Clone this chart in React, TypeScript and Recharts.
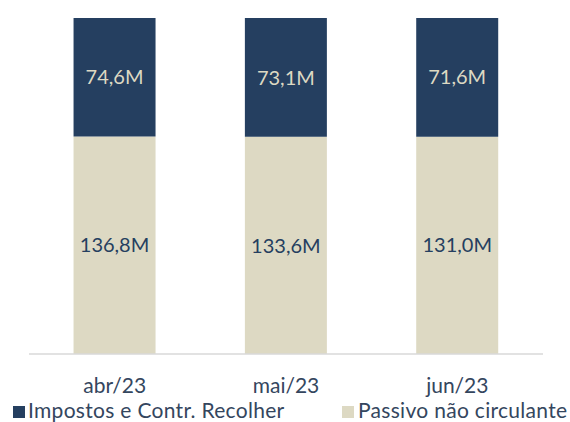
import { BarChart, Bar, XAxis, YAxis, LabelList } from "recharts";

const months = ["abr/23", "mai/23", "jun/23"];
const impostos = [74.6, 73.1, 71.6];
const passivo = [136.8, 133.6, 131.0];

const NAVY = "#253f60";
const BEIGE = "#ddd9c3";
const TEXT = "#34465e";
const FONT = "Lato, 'Open Sans', sans-serif";

const data = months.map((m, i) => ({
  month: m,
  impostos: impostos[i],
  passivo: passivo[i],
}));

const fmt = (v: number) => `${Number(v).toFixed(1).replace(".", ",")}M`;

const App = () => {
  return (
    <div style={{ position: "absolute", left: 0, top: 0, width: 570, height: 422, fontFamily: FONT, background: "#fff" }}>
      <BarChart
        width={570}
        height={422}
        data={data}
        stackOffset="expand"
        barCategoryGap="26%"
        margin={{ top: 18, right: 27, left: 29, bottom: 0 }}
      >
        <XAxis
          dataKey="month"
          height={68}
          tickLine={false}
          tickSize={0}
          tickMargin={24}
          axisLine={{ stroke: "#d9d9d9", strokeWidth: 1.5 }}
          tick={{ fill: TEXT, fontSize: 21, fontFamily: FONT }}
        />
        <YAxis hide domain={[0, 1]} />
        <Bar dataKey="passivo" stackId="a" fill={BEIGE} isAnimationActive={false}>
          <LabelList dataKey="passivo" position="center" formatter={fmt} fill={NAVY} fontSize={20} fontFamily={FONT} />
        </Bar>
        <Bar dataKey="impostos" stackId="a" fill={NAVY} isAnimationActive={false}>
          <LabelList dataKey="impostos" position="center" formatter={fmt} fill={BEIGE} fontSize={20} fontFamily={FONT} />
        </Bar>
      </BarChart>
      <div style={{ position: "absolute", left: 0, top: 398, width: 570, height: 24, fontSize: 21, letterSpacing: 0.3, color: TEXT, lineHeight: "24px" }}>
        <span style={{ position: "absolute", left: 13, top: 8, width: 12, height: 12, background: NAVY }} />
        <span style={{ position: "absolute", left: 28, top: 0, whiteSpace: "nowrap" }}>Impostos e Contr. Recolher</span>
        <span style={{ position: "absolute", left: 342, top: 8, width: 12, height: 12, background: BEIGE }} />
        <span style={{ position: "absolute", left: 358, top: 0, whiteSpace: "nowrap" }}>Passivo não circulante</span>
      </div>
    </div>
  );
};

export default App;
